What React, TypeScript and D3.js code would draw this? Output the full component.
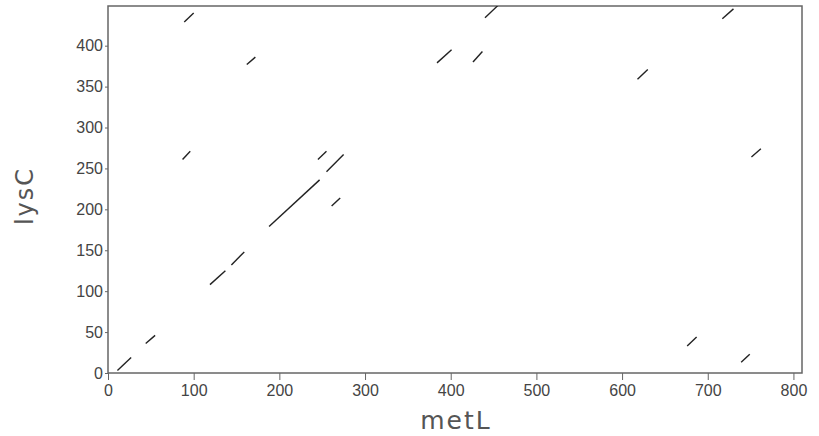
import React, { useEffect, useRef } from "react";
import * as d3 from "d3";

// match segments: [metL start, lysC start, metL end, lysC end]
const segX1 = [11, 44, 119, 144, 188, 255, 245, 261, 87, 89, 162, 440, 384, 426, 717, 618, 751, 676, 739];
const segY1 = [3, 36, 108, 132, 179, 246, 261, 204, 261, 429, 377, 434, 379, 380, 433, 359, 264, 33, 13];
const segX2 = [27, 55, 137, 159, 247, 275, 255, 271, 96, 100, 172, 455, 401, 437, 730, 630, 762, 687, 749];
const segY2 = [19, 46, 125, 148, 236, 267, 271, 214, 271, 440, 386, 449, 395, 393, 445, 371, 274, 44, 23];

const xTicks = [0, 100, 200, 300, 400, 500, 600, 700, 800];
const yTicks = [0, 50, 100, 150, 200, 250, 300, 350, 400];

const xLabel = "metL";
const yLabel = "lysC";

export default function App() {
  const ref = useRef<SVGSVGElement | null>(null);
  const width = 819;
  const height = 436;

  useEffect(() => {
    if (!ref.current) return;
    const svg = d3.select(ref.current);
    svg.selectAll("*").remove();

    const margin = { top: 6, right: 17, bottom: 63, left: 108 };
    const plotW = width - margin.left - margin.right;
    const plotH = height - margin.top - margin.bottom;

    const x = d3.scaleLinear().domain([0, 810]).range([0, plotW]);
    const y = d3.scaleLinear().domain([0, 448.5]).range([plotH, 0]);

    svg
      .append("defs")
      .append("clipPath")
      .attr("id", "plot-clip")
      .append("rect")
      .attr("width", plotW)
      .attr("height", plotH);

    const g = svg
      .append("g")
      .attr("transform", `translate(${margin.left},${margin.top})`);

    // frame
    g.append("rect")
      .attr("width", plotW)
      .attr("height", plotH)
      .attr("fill", "none")
      .attr("stroke", "#666")
      .attr("stroke-width", 1.5);

    // segments
    const segs = segX1.map((_, i) => i);
    g.append("g")
      .attr("clip-path", "url(#plot-clip)")
      .selectAll("line")
      .data(segs)
      .enter()
      .append("line")
      .attr("x1", (i) => x(segX1[i]))
      .attr("y1", (i) => y(segY1[i]))
      .attr("x2", (i) => x(segX2[i]))
      .attr("y2", (i) => y(segY2[i]))
      .attr("stroke", "#222")
      .attr("stroke-width", 1.4);

    const font = "'Liberation Sans', Arial, sans-serif";

    // x axis
    const xAxis = g
      .append("g")
      .attr("transform", `translate(0,${plotH})`)
      .call(d3.axisBottom(x).tickValues(xTicks).tickSize(7).tickPadding(5).tickFormat(d3.format("d")));
    xAxis.select(".domain").remove();
    xAxis.selectAll("line").attr("stroke", "#666");
    xAxis
      .selectAll("text")
      .attr("fill", "#444")
      .style("font-family", font)
      .style("font-size", "16px");

    // y axis
    const yAxis = g
      .append("g")
      .call(d3.axisLeft(y).tickValues(yTicks).tickSize(3).tickPadding(2).tickFormat(d3.format("d")));
    yAxis.select(".domain").remove();
    yAxis.selectAll("line").attr("stroke", "#666");
    yAxis
      .selectAll("text")
      .attr("fill", "#444")
      .style("font-family", font)
      .style("font-size", "16px");

    // axis titles
    svg
      .append("text")
      .attr("x", 456)
      .attr("y", 429)
      .attr("text-anchor", "middle")
      .attr("fill", "#555")
      .style("font-family", "'DejaVu Sans', sans-serif")
      .style("font-size", "25px")
      .style("letter-spacing", "2px")
      .text(xLabel);

    svg
      .append("text")
      .attr("transform", `translate(33,196) rotate(-90)`)
      .attr("text-anchor", "middle")
      .attr("fill", "#555")
      .style("font-family", "'DejaVu Sans', sans-serif")
      .style("font-size", "24px")
      .style("letter-spacing", "2px")
      .text(yLabel);
  }, []);

  return (
    <svg
      ref={ref}
      width={width}
      height={height}
      style={{ position: "absolute", left: 0, top: 0, background: "#fff" }}
    />
  );
}
